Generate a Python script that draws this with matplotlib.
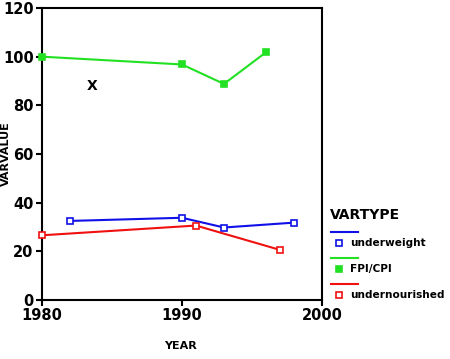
import matplotlib

matplotlib.use("Agg")
import matplotlib.pyplot as plt
from matplotlib.lines import Line2D

# data
uw_year = [1982, 1990, 1993, 1998]
uw_value = [32.5, 33.8, 29.8, 31.8]
fpi_year = [1980, 1990, 1993, 1996]
fpi_value = [100.0, 96.8, 88.8, 101.8]
un_year = [1980, 1991, 1997]
un_value = [26.6, 30.6, 20.6]

series = [
    ("underweight", uw_year, uw_value, "#1010e8"),
    ("FPI/CPI", fpi_year, fpi_value, "#22e022"),
    ("undernourished", un_year, un_value, "#f01010"),
]

plt.rcParams["font.family"] = "DejaVu Sans"
plt.rcParams["font.weight"] = "bold"

fig = plt.figure(figsize=(4.5, 3.59), dpi=100)
ax = fig.add_axes([0.0933, 0.1643, 0.6222, 0.8134])

for name, xs, ys, col in series:
    mfc = col if name == "FPI/CPI" else "white"
    ax.plot(xs, ys, color=col, linewidth=1.5, marker="s", markersize=4,
            markerfacecolor=mfc, markeredgecolor=col, markeredgewidth=1.2,
            clip_on=False, zorder=3)

ax.text(1983.6, 88, "X", ha="center", va="center", fontsize=10, fontweight="bold")

ax.set_xlim(1980, 2000)
ax.set_ylim(0, 120)
ax.set_xticks([1980, 1990, 2000])
ax.set_yticks([0, 20, 40, 60, 80, 100, 120])
ax.tick_params(direction="out", length=4, width=1.5, labelsize=10.5, pad=2)
for lab in ax.get_xticklabels() + ax.get_yticklabels():
    lab.set_fontweight("bold")
for sp in ax.spines.values():
    sp.set_linewidth(1.5)
ax.set_xlabel("YEAR", fontsize=8, fontweight="bold")
ax.xaxis.set_label_coords(0.493, -0.142)
ax.set_ylabel("VARVALUE", fontsize=8, fontweight="bold")
ax.yaxis.set_label_coords(-0.11, 0.5)

# legend drawn by hand to mimic the stacked line / marker / label layout
fig.text(330 / 450, 1 - 215 / 359, "VARTYPE", fontsize=10, fontweight="bold",
         va="center", ha="left")
y0 = 232
for i, (name, xs, ys, col) in enumerate(series):
    yl = 1 - (y0 + i * 26) / 359
    ym = 1 - (y0 + 11 + i * 26) / 359
    fig.add_artist(Line2D([331 / 450, 358 / 450], [yl, yl], color=col,
                          linewidth=1.5, transform=fig.transFigure))
    mfc = col if name == "FPI/CPI" else "white"
    fig.add_artist(Line2D([339 / 450], [ym], marker="s", markersize=4,
                          markerfacecolor=mfc, markeredgecolor=col,
                          markeredgewidth=1.2, transform=fig.transFigure))
    fig.text(350 / 450, ym, name, fontsize=7.6, fontweight="bold",
             va="center", ha="left")

fig.savefig("out.png", dpi=100)
